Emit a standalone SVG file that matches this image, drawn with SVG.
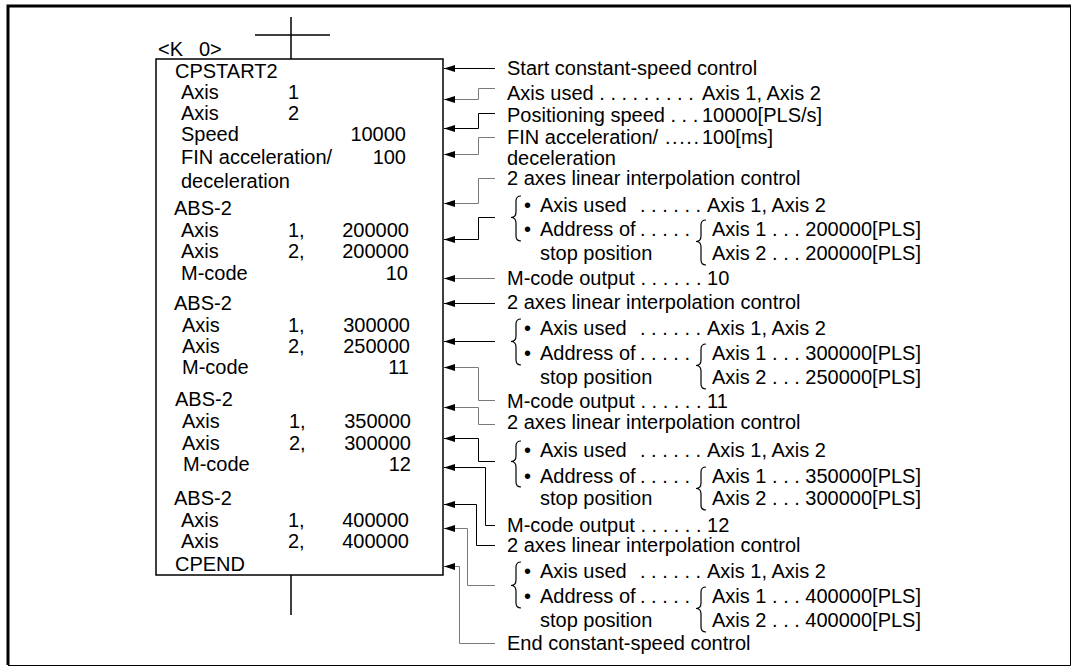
<svg xmlns="http://www.w3.org/2000/svg" width="1072" height="667" viewBox="0 0 1072 667">
<style>
text{font-family:"Liberation Sans",Arial,sans-serif;font-size:20px;fill:#000}
.e{text-anchor:end}
.ln{fill:none;stroke:#000;stroke-width:1.5}
.c{fill:none;stroke:#000;stroke-width:1;marker-end:url(#ah)}
.g{stroke:#7a7a7a}
.br{fill:none;stroke:#000;stroke-width:1.2}
</style>
<defs>
<marker id="ah" markerWidth="11" markerHeight="7" refX="11" refY="3.5" orient="auto" markerUnits="userSpaceOnUse">
<path d="M0,0 L11,3.5 L0,7 z" fill="#000"/>
</marker>
</defs>
<rect width="1072" height="667" fill="#fff"/>
<g id="frame">
<path d="M8,665 V6 H1071" fill="none" stroke="#000" stroke-width="3"/>
<path d="M1070.5,6 V665.5 H8" fill="none" stroke="#000" stroke-width="1"/>
</g>
<g id="rung">
<path class="ln" d="M291,17 V59 M255,35 H330 M291,575 V615"/>
<text x="158" y="56">&lt;K<tspan x="199">0&gt;</tspan></text>
</g>
<g id="program-box">
<rect x="156" y="59" width="287" height="516" fill="none" stroke="#000" stroke-width="1.5"/>
<text x="175" y="78">CPSTART2</text>
<text x="181" y="98.5">Axis<tspan x="288">1</tspan></text>
<text x="181" y="120">Axis<tspan x="288">2</tspan></text>
<text x="181" y="141">Speed</text><text class="e" x="406" y="141">10000</text>
<text x="181" y="164">FIN acceleration/</text><text class="e" x="406" y="164">100</text>
<text x="181" y="188">deceleration</text>
<text x="174" y="215">ABS-2</text>
<text x="181" y="237">Axis<tspan x="288">1,</tspan></text><text class="e" x="409" y="237">200000</text>
<text x="181" y="258">Axis<tspan x="288">2,</tspan></text><text class="e" x="409" y="258">200000</text>
<text x="181" y="279.5">M-code</text><text class="e" x="408" y="279.5">10</text>
<text x="174" y="309.5">ABS-2</text>
<text x="182" y="331.5">Axis<tspan x="288">1,</tspan></text><text class="e" x="410" y="331.5">300000</text>
<text x="182" y="353">Axis<tspan x="288">2,</tspan></text><text class="e" x="410" y="353">250000</text>
<text x="182" y="374">M-code</text><text class="e" x="409" y="374">11</text>
<text x="175" y="406">ABS-2</text>
<text x="182" y="428">Axis<tspan x="289">1,</tspan></text><text class="e" x="411" y="428">350000</text>
<text x="182" y="450">Axis<tspan x="289">2,</tspan></text><text class="e" x="411" y="450">300000</text>
<text x="183" y="471">M-code</text><text class="e" x="411" y="471">12</text>
<text x="174" y="505">ABS-2</text>
<text x="181" y="527">Axis<tspan x="288">1,</tspan></text><text class="e" x="409" y="527">400000</text>
<text x="181" y="548">Axis<tspan x="288">2,</tspan></text><text class="e" x="409" y="548">400000</text>
<text x="175" y="571">CPEND</text>
</g>
<g id="connectors">
<path class="c" d="M495,68.5 H444"/>
<path class="c g" d="M495,88.5 H478.5 V99.5 H444"/>
<path class="c" d="M495,113.5 H478.5 V128.5 H444"/>
<path class="c g" d="M495,137.5 H478.5 V154.5 H444"/>
<path class="c g" d="M495,178.5 H478.5 V203.5 H444"/>
<path class="c" d="M495,217.5 H478.5 V239.5 H444"/>
<path class="c g" d="M495,278.5 H444"/>
<path class="c" d="M495,303.5 H444"/>
<path class="c" d="M495,341.5 H444"/>
<path class="c g" d="M495,400.5 H478.5 V367.5 H444"/>
<path class="c g" d="M495,424.5 H478.5 V407.5 H444"/>
<path class="c" d="M495,461.5 H478.5 V438.5 H444"/>
<path class="c" d="M495,525.5 H485.5 V467.5 H444"/>
<path class="c" d="M495,545.5 H476.5 V504.5 H444"/>
<path class="c g" d="M495,585.5 H467.5 V528.5 H444"/>
<path class="c g" d="M495,643.5 H459.5 V566.5 H444"/>
</g>
<g id="notes-start">
<text x="507" y="75">Start constant-speed control</text>
<text x="507" y="100">Axis used . . . . . . . . .<tspan x="702">Axis 1, Axis 2</tspan></text>
<text x="507" y="122">Positioning speed . . .<tspan x="702">10000[PLS/s]</tspan></text>
<text x="507" y="144">FIN acceleration/</text>
<text x="665" y="144" textLength="34" lengthAdjust="spacing">. . . . .</text>
<text x="702" y="144">100[ms]</text>
<text x="507" y="165">deceleration</text>
</g>
<g id="notes-abs1">
<text x="507" y="185">2 axes linear interpolation control</text>
<path class="br" d="M521,196 Q516,196 516,201 L516,212 Q516,217.5 511,217.5 Q516,217.5 516,223 L516,236 Q516,241 521,241"/>
<text x="524" y="212">•<tspan x="540">Axis used</tspan><tspan x="640">. . . . . .</tspan><tspan x="707">Axis 1, Axis 2</tspan></text>
<text x="524" y="236">•<tspan x="540">Address of</tspan><tspan x="640">. . . . .</tspan></text>
<path class="br" d="M706,220 Q701,220 701,225 L701,236 Q701,241.5 696,241.5 Q701,241.5 701,247 L701,260 Q701,265 706,265"/>
<text x="712" y="236">Axis 1 . . . 200000[PLS]</text>
<text x="540" y="260">stop position</text>
<text x="712" y="260">Axis 2 . . . 200000[PLS]</text>
<text x="507" y="285">M-code output . . . . . . 10</text>
</g>
<g id="notes-abs2">
<text x="507" y="309">2 axes linear interpolation control</text>
<path class="br" d="M521,319 Q516,319 516,324 L516,336 Q516,341.5 511,341.5 Q516,341.5 516,347 L516,360 Q516,365 521,365"/>
<text x="524" y="335">•<tspan x="540">Axis used</tspan><tspan x="640">. . . . . .</tspan><tspan x="707">Axis 1, Axis 2</tspan></text>
<text x="524" y="360">•<tspan x="540">Address of</tspan><tspan x="640">. . . . .</tspan></text>
<path class="br" d="M706,344 Q701,344 701,349 L701,360 Q701,365.5 696,365.5 Q701,365.5 701,371 L701,384 Q701,389 706,389"/>
<text x="712" y="360">Axis 1 . . . 300000[PLS]</text>
<text x="540" y="384">stop position</text>
<text x="712" y="384">Axis 2 . . . 250000[PLS]</text>
<text x="507" y="408">M-code output . . . . . . 11</text>
</g>
<g id="notes-abs3">
<text x="507" y="429">2 axes linear interpolation control</text>
<path class="br" d="M521,441 Q516,441 516,446 L516,456 Q516,461.5 511,461.5 Q516,461.5 516,467 L516,482 Q516,487 521,487"/>
<text x="524" y="457">•<tspan x="540">Axis used</tspan><tspan x="640">. . . . . .</tspan><tspan x="707">Axis 1, Axis 2</tspan></text>
<text x="524" y="483">•<tspan x="540">Address of</tspan><tspan x="640">. . . . .</tspan></text>
<path class="br" d="M706,467 Q701,467 701,472 L701,483 Q701,488.5 696,488.5 Q701,488.5 701,494 L701,505 Q701,510 706,510"/>
<text x="712" y="483">Axis 1 . . . 350000[PLS]</text>
<text x="540" y="505">stop position</text>
<text x="712" y="505">Axis 2 . . . 300000[PLS]</text>
<text x="507" y="532">M-code output . . . . . . 12</text>
</g>
<g id="notes-abs4">
<text x="507" y="552">2 axes linear interpolation control</text>
<path class="br" d="M521,562 Q516,562 516,567 L516,580 Q516,585.5 511,585.5 Q516,585.5 516,591 L516,603 Q516,608 521,608"/>
<text x="524" y="578">•<tspan x="540">Axis used</tspan><tspan x="640">. . . . . .</tspan><tspan x="707">Axis 1, Axis 2</tspan></text>
<text x="524" y="603">•<tspan x="540">Address of</tspan><tspan x="640">. . . . .</tspan></text>
<path class="br" d="M706,587 Q701,587 701,592 L701,603 Q701,608.5 696,608.5 Q701,608.5 701,614 L701,627 Q701,632 706,632"/>
<text x="712" y="603">Axis 1 . . . 400000[PLS]</text>
<text x="540" y="627">stop position</text>
<text x="712" y="627">Axis 2 . . . 400000[PLS]</text>
<text x="507" y="650">End constant-speed control</text>
</g>
</svg>
